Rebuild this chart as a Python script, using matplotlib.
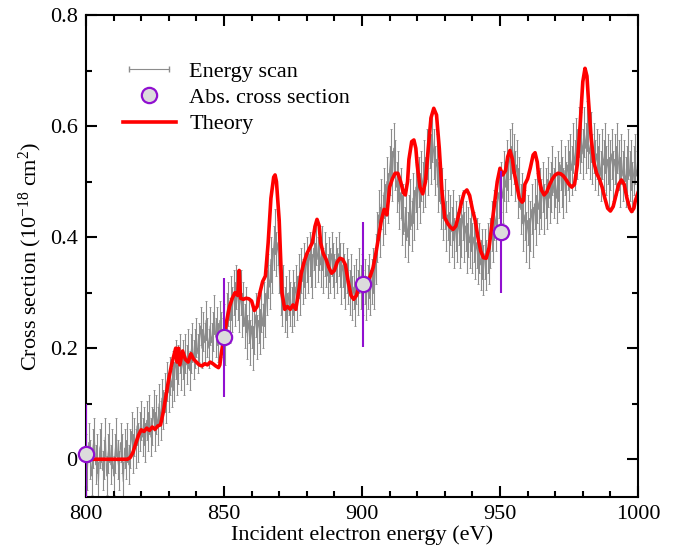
import numpy as np
import matplotlib
matplotlib.use("Agg")
import matplotlib.pyplot as plt
from matplotlib.lines import Line2D
from matplotlib.legend_handler import HandlerLine2D
from matplotlib.ticker import MultipleLocator, FuncFormatter

plt.rcParams["font.family"] = ["Liberation Serif", "DejaVu Serif"]
plt.rcParams["mathtext.fontset"] = "custom"
plt.rcParams["mathtext.rm"] = "Liberation Serif"
plt.rcParams["mathtext.it"] = "Liberation Serif:italic"
plt.rcParams["font.size"] = 16

# energy scan, 0.5 eV steps from 800 to 1000 eV
scan_start = 800.0
scan_step = 0.5
scan_y = [
    0.01, -0.02, 0.03, 0.00, -0.03, 0.02, 0.04, -0.01, 0.01, -0.04,
    0.02, 0.03, -0.02, 0.00, 0.04, -0.03, 0.01, 0.03, -0.01, 0.02,
    -0.03, 0.01, 0.04, 0.00, -0.02, 0.03, 0.01, -0.04, 0.02, 0.00,
    0.03, -0.01, 0.02, 0.05, 0.01, 0.04, 0.02, 0.06, 0.03, 0.05,
    0.07, 0.04, 0.06, 0.03, 0.07, 0.05, 0.08, 0.04, 0.06, 0.09,
    0.05, 0.08, 0.06, 0.10, 0.07, 0.11, 0.09, 0.12, 0.10, 0.14,
    0.12, 0.15, 0.13, 0.16, 0.14, 0.18, 0.15, 0.17, 0.19, 0.16,
    0.18, 0.15, 0.19, 0.17, 0.20, 0.16, 0.19, 0.21, 0.18, 0.20,
    0.22, 0.19, 0.21, 0.24, 0.20, 0.23, 0.21, 0.25, 0.22, 0.20,
    0.24, 0.21, 0.23, 0.26, 0.22, 0.24, 0.21, 0.25, 0.23, 0.22,
    0.24, 0.21, 0.26, 0.28, 0.25, 0.29, 0.27, 0.30, 0.28, 0.31,
    0.29, 0.27, 0.30, 0.26, 0.28, 0.24, 0.27, 0.22, 0.25, 0.21,
    0.24, 0.20, 0.23, 0.26, 0.22, 0.25, 0.23, 0.27, 0.24, 0.28,
    0.26, 0.30, 0.33, 0.31, 0.36, 0.34, 0.38, 0.41, 0.37, 0.39,
    0.34, 0.30, 0.28, 0.31, 0.27, 0.29, 0.26, 0.30, 0.28, 0.27,
    0.30, 0.28, 0.31, 0.29, 0.33, 0.30, 0.34, 0.32, 0.35, 0.33,
    0.36, 0.34, 0.37, 0.35, 0.33, 0.38, 0.35, 0.39, 0.36, 0.38,
    0.35, 0.38, 0.34, 0.37, 0.35, 0.33, 0.36, 0.34, 0.37, 0.35,
    0.33, 0.36, 0.34, 0.37, 0.35, 0.32, 0.35, 0.33, 0.31, 0.34,
    0.32, 0.30, 0.33, 0.29, 0.31, 0.28, 0.32, 0.30, 0.34, 0.31,
    0.33, 0.30, 0.32, 0.29, 0.31, 0.33, 0.30, 0.32, 0.34, 0.31,
    0.36, 0.40, 0.44, 0.41, 0.46, 0.43, 0.48, 0.45, 0.50, 0.47,
    0.52, 0.55, 0.51, 0.56, 0.53, 0.49, 0.51, 0.46, 0.48, 0.43,
    0.45, 0.41, 0.44, 0.40, 0.43, 0.46, 0.42, 0.47, 0.44, 0.49,
    0.46, 0.50, 0.47, 0.51, 0.49, 0.53, 0.50, 0.55, 0.52, 0.57,
    0.54, 0.58, 0.55, 0.52, 0.54, 0.49, 0.51, 0.46, 0.48, 0.44,
    0.46, 0.42, 0.44, 0.40, 0.43, 0.41, 0.44, 0.39, 0.42, 0.40,
    0.43, 0.39, 0.41, 0.44, 0.40, 0.42, 0.38, 0.41, 0.39, 0.42,
    0.38, 0.40, 0.37, 0.39, 0.36, 0.38, 0.35, 0.37, 0.34, 0.37,
    0.35, 0.38, 0.36, 0.39, 0.42, 0.40, 0.44, 0.42, 0.46, 0.48,
    0.45, 0.49, 0.47, 0.51, 0.49, 0.53, 0.51, 0.55, 0.52, 0.56,
    0.54, 0.51, 0.53, 0.48, 0.50, 0.45, 0.47, 0.42, 0.44, 0.40,
    0.43, 0.39, 0.42, 0.45, 0.41, 0.46, 0.43, 0.47, 0.45, 0.48,
    0.46, 0.49, 0.45, 0.48, 0.46, 0.50, 0.47, 0.49, 0.52, 0.48,
    0.50, 0.47, 0.51, 0.49, 0.53, 0.50, 0.48, 0.52, 0.49, 0.53,
    0.51, 0.54, 0.52, 0.56, 0.53, 0.57, 0.55, 0.59, 0.56, 0.58,
    0.55, 0.59, 0.56, 0.60, 0.57, 0.55, 0.58, 0.54, 0.56, 0.53,
    0.55, 0.52, 0.54, 0.51, 0.55, 0.53, 0.56, 0.52, 0.54, 0.50,
    0.53, 0.55, 0.51, 0.54, 0.52, 0.56, 0.53, 0.50, 0.54, 0.51,
    0.53, 0.50, 0.52, 0.55, 0.51, 0.53, 0.49, 0.52, 0.54, 0.51,
    0.53,
]
# uncertainty of the scan, one value per 5 eV block
scan_err_block = [
    0.035, 0.035, 0.035, 0.035, 0.035, 0.035, 0.035, 0.035,
    0.035, 0.035, 0.04, 0.04, 0.04, 0.04, 0.04, 0.04,
    0.04, 0.04, 0.04, 0.04, 0.04, 0.045, 0.045, 0.045,
    0.045, 0.045, 0.045, 0.045, 0.045, 0.045, 0.045, 0.045,
    0.045, 0.045, 0.045, 0.045, 0.045, 0.045, 0.045, 0.045,
    0.045,
]

theory_e = [
    800, 815, 816, 817, 818, 819, 820, 821, 822, 823, 824, 825, 826, 827,
    828, 829, 830, 831, 832, 832.5, 833, 833.5, 834, 835, 836, 837, 838,
    838.5, 839, 840, 841, 842, 843, 844, 845, 846, 847, 848, 848.5, 849,
    850, 851, 852, 853, 854, 855, 855.5, 856, 857, 858, 859, 860, 861, 862,
    863, 864, 865, 866, 867, 868, 868.5, 869, 870, 871, 872, 873, 874, 875,
    876, 877, 878, 879, 880, 881, 882, 883, 883.7, 884.5, 885, 886, 887,
    888, 889, 890, 891, 892, 893, 894, 895, 896, 897, 898, 899, 900, 900.5,
    901, 902, 903, 904, 905, 906, 907, 908, 909, 910, 911, 912, 913, 914,
    915, 915.7, 916.5, 917, 918, 918.8, 919.5, 920, 921, 922, 923, 924,
    925, 926, 927, 928, 929, 930, 931, 932, 933, 934, 935, 936, 937, 938,
    939, 940, 941, 942, 943, 944, 945, 946, 947, 948, 949, 950, 951, 952,
    952.8, 953.6, 954.5, 955, 956, 957, 958, 958.5, 959, 960, 961, 962,
    962.7, 963.5, 964, 965, 966, 967, 968, 969, 970, 971, 972, 973, 974,
    975, 976, 977, 978, 979, 980, 980.8, 981.5, 982, 983, 984, 985, 986,
    987, 988, 989, 990, 991, 992, 993, 994, 995, 996, 997, 997.7, 998.5,
    999, 1000,
]
theory_v = [
    0.0, 0.0, 0.003, 0.012, 0.028, 0.043, 0.053, 0.05, 0.056, 0.052, 0.058,
    0.054, 0.06, 0.062, 0.085, 0.115, 0.145, 0.17, 0.19, 0.2, 0.175, 0.2,
    0.17, 0.195, 0.18, 0.175, 0.19, 0.185, 0.18, 0.175, 0.17, 0.168, 0.172,
    0.17, 0.175, 0.172, 0.168, 0.165, 0.17, 0.19, 0.22, 0.25, 0.275, 0.29,
    0.3, 0.295, 0.34, 0.29, 0.288, 0.29, 0.289, 0.285, 0.268, 0.275, 0.3,
    0.32, 0.33, 0.39, 0.47, 0.508, 0.512, 0.5, 0.43, 0.3, 0.27, 0.275, 0.27,
    0.278, 0.27, 0.3, 0.335, 0.355, 0.37, 0.38, 0.39, 0.42, 0.432, 0.42,
    0.39, 0.37, 0.36, 0.345, 0.335, 0.34, 0.355, 0.362, 0.36, 0.35, 0.32,
    0.295, 0.288, 0.295, 0.315, 0.318, 0.31, 0.31, 0.318, 0.33, 0.345, 0.37,
    0.4, 0.43, 0.45, 0.44, 0.49, 0.505, 0.515, 0.515, 0.5, 0.48, 0.476, 0.5,
    0.54, 0.572, 0.575, 0.56, 0.53, 0.49, 0.478, 0.5, 0.56, 0.615, 0.632,
    0.62, 0.56, 0.48, 0.435, 0.425, 0.418, 0.414, 0.42, 0.44, 0.462, 0.48,
    0.485, 0.475, 0.45, 0.43, 0.4, 0.375, 0.363, 0.362, 0.38, 0.42, 0.46,
    0.5, 0.524, 0.512, 0.52, 0.545, 0.556, 0.54, 0.52, 0.495, 0.47, 0.463,
    0.466, 0.495, 0.505, 0.525, 0.548, 0.552, 0.535, 0.51, 0.485, 0.476,
    0.482, 0.495, 0.505, 0.512, 0.515, 0.514, 0.51, 0.503, 0.495, 0.49,
    0.495, 0.53, 0.6, 0.68, 0.704, 0.69, 0.65, 0.58, 0.535, 0.515, 0.505,
    0.49, 0.47, 0.452, 0.447, 0.455, 0.475, 0.495, 0.503, 0.495, 0.47,
    0.452, 0.446, 0.452, 0.465, 0.48,
]

abs_e = [800, 850, 900.5, 950.5]
abs_v = [0.01, 0.22, 0.315, 0.41]
abs_err = [0.09, 0.107, 0.113, 0.11]

scan_e = scan_start + scan_step * np.arange(len(scan_y))
scan_err = np.repeat(scan_err_block, 10)[:len(scan_y)]

fig = plt.figure(figsize=(6.74, 5.52), dpi=100)
ax = fig.add_axes([0.1276, 0.0996, 0.819, 0.8732])

ax.errorbar(scan_e, scan_y, yerr=scan_err, color="#8c8c8c", lw=0.8,
            elinewidth=0.8, capsize=1.0, capthick=0.6, zorder=1)
ax.plot(theory_e, theory_v, color="#ff0000", lw=2.6, zorder=2,
        solid_joinstyle="round")
pts = ax.errorbar(abs_e, abs_v, yerr=abs_err, fmt="o", ms=11, mfc="#dcdcdc",
                  mec="#9010d0", mew=1.6, ecolor="#9010d0", elinewidth=1.5,
                  zorder=3)
# circles may sit on the frame, as in the original
pts[0].set_clip_on(False)

ax.set_xlim(800, 1000)
ax.set_ylim(-0.068, 0.8)
ax.xaxis.set_major_locator(MultipleLocator(50))
ax.xaxis.set_minor_locator(MultipleLocator(10))
ax.yaxis.set_major_locator(MultipleLocator(0.2))
ax.yaxis.set_minor_locator(MultipleLocator(0.1))
ax.yaxis.set_major_formatter(FuncFormatter(lambda v, p: "%g" % round(v, 2)))
ax.tick_params(which="both", direction="in", top=True, right=True,
               width=1.5, labelsize=16, pad=6)
ax.tick_params(which="major", length=8)
ax.tick_params(which="minor", length=4.5)
for s in ax.spines.values():
    s.set_linewidth(1.5)

ax.set_xlabel("Incident electron energy (eV)", fontsize=16, labelpad=1)
ax.set_ylabel(r"Cross section (10$^{-18}$ cm$^{2}$)", fontsize=16, labelpad=4)

h_scan = Line2D([], [], color="#8c8c8c", lw=0.8, marker="|", ms=4)
h_abs = Line2D([], [], ls="none", marker="o", ms=11, mfc="#dcdcdc",
               mec="#9010d0", mew=1.6)
h_th = Line2D([], [], color="#ff0000", lw=2.6)
ax.legend([h_scan, h_abs, h_th], ["Energy scan", "Abs. cross section", "Theory"],
          loc="upper left", bbox_to_anchor=(0.03, 0.945), frameon=False,
          fontsize=16, handlelength=2.4, handletextpad=0.6, labelspacing=0.25,
          handler_map={h_scan: HandlerLine2D(numpoints=2),
                       h_abs: HandlerLine2D(numpoints=1)})

fig.savefig("out.png", dpi=100)
